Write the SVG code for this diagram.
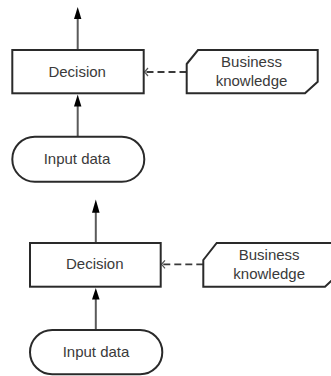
<svg xmlns="http://www.w3.org/2000/svg" width="331" height="376" viewBox="0 0 331 376">
<style>
.box{fill:#fff;stroke:#2a2a2a;stroke-width:2}
.lbl{font-family:"Liberation Sans",Arial,sans-serif;font-size:15px;fill:#3a3a3a;text-anchor:middle}
.edge{stroke:#5a5a5a;stroke-width:2;fill:none}
.dash{stroke:#3a3a3a;stroke-width:1.8;fill:none;stroke-dasharray:7 4}
.head{fill:#000}
.open{stroke:#555;stroke-width:1.2;fill:none}
</style>
<rect width="331" height="376" fill="#fff"/>
<g id="connectors">
  <line class="edge" x1="77.7" y1="50" x2="77.7" y2="17"/>
  <polygon class="head" points="77.7,7 74,19 81.4,19"/>
  <line class="edge" x1="77.7" y1="136.7" x2="77.7" y2="104"/>
  <polygon class="head" points="77.7,94.5 74,106.5 81.4,106.5"/>
  <line class="dash" x1="186.5" y1="72" x2="146" y2="72"/>
  <polyline class="open" points="148,68 144.5,72 148,76"/>
  <line class="edge" x1="95.8" y1="242.7" x2="95.8" y2="210"/>
  <polygon class="head" points="95.8,199.5 92,212.7 99.6,212.7"/>
  <line class="edge" x1="95.8" y1="330" x2="95.8" y2="297"/>
  <polygon class="head" points="95.8,288 92,299.5 99.6,299.5"/>
  <line class="dash" x1="203.3" y1="264.3" x2="163" y2="264.3"/>
  <polyline class="open" points="165,260.3 161.5,264.3 165,268.3"/>
</g>
<g id="decision1">
  <rect class="box" x="12.3" y="50" width="131.4" height="43.3"/>
  <text class="lbl" x="77.2" y="76.7">Decision</text>
</g>
<g id="business1">
  <polygon class="box" points="186.7,64 198,50 317.7,50 317.7,81.7 305,93.3 186.7,93.3"/>
  <text class="lbl" x="251.5" y="66.7">Business</text>
  <text class="lbl" x="251.5" y="85.7">knowledge</text>
</g>
<g id="input1">
  <rect class="box" x="12.3" y="136.7" width="132" height="45" rx="22.5" ry="22.5"/>
  <text class="lbl" x="77" y="164">Input data</text>
</g>
<g id="decision2">
  <rect class="box" x="30" y="243" width="130.7" height="43.7"/>
  <text class="lbl" x="94.8" y="269.3">Decision</text>
</g>
<g id="business2">
  <polygon class="box" points="203.3,260 216.7,243 337.7,243 337.7,275 325,286.7 203.3,286.7"/>
  <text class="lbl" x="269.2" y="260">Business</text>
  <text class="lbl" x="269.2" y="279">knowledge</text>
</g>
<g id="input2">
  <rect class="box" x="30" y="330" width="132.3" height="44.3" rx="22.2" ry="22.2"/>
  <text class="lbl" x="96" y="357">Input data</text>
</g>
</svg>
